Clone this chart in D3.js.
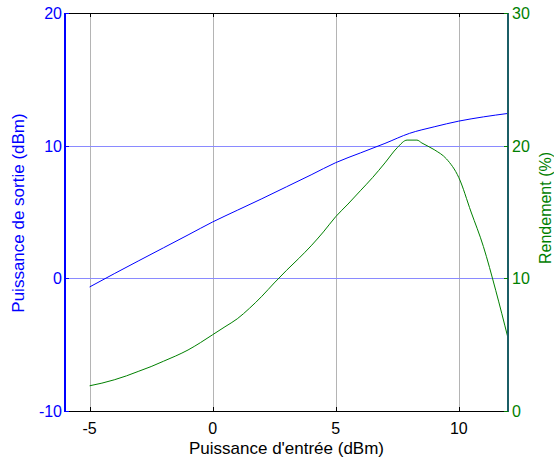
<!DOCTYPE html>
<html><head><meta charset="utf-8">
<script src="https://cdn.jsdelivr.net/npm/d3@7"></script>
<style>html,body{margin:0;padding:0;background:#fff}svg{display:block}text{font-family:"Liberation Sans",Arial,sans-serif}</style>
</head><body>
<svg id="c" width="554" height="464"></svg>
<script>
const inputPower = [-5,-4,-3,-2,-1,0,1,2,3,4,5,6,7,8,9,10,11,12];
const outputPower = [-0.65,0.35,1.33,2.3,3.27,4.25,5.13,6.0,6.9,7.8,8.72,9.45,10.17,10.93,11.42,11.85,12.17,12.43];
const effInput = [-5,-4.5,-4,-3.5,-3,-2.5,-2,-1.5,-1,-0.5,0,0.5,1,1.5,2,2.5,3,3.5,4,4.5,5,5.5,6,6.5,7,7.5,7.9,8.3,8.5,9,9.5,10,10.5,11,11.5,12];
const efficiency = [1.9,2.1,2.35,2.65,3.0,3.35,3.75,4.15,4.6,5.15,5.75,6.35,6.95,7.75,8.65,9.65,10.6,11.5,12.45,13.5,14.65,15.6,16.6,17.6,18.7,19.85,20.42,20.42,20.2,19.7,19.0,17.6,15.0,12.4,9.1,5.5];
const xTicks = [-5,0,5,10];
const yLeftTicks = [-10,0,10,20];
const yRightTicks = [0,10,20,30];

const svg = d3.select("#c");
const L=65, R=508, T=13, B=411;
const x = d3.scaleLinear().domain([-6,12]).range([L,R]);
const yL = d3.scaleLinear().domain([-10,20]).range([B,T]);
const yR = d3.scaleLinear().domain([0,30]).range([B,T]);
const px = v => Math.round(v)+0.5;

// grids
svg.append("g").selectAll("line").data(xTicks).join("line")
  .attr("x1",d=>px(x(d))).attr("x2",d=>px(x(d))).attr("y1",T).attr("y2",B)
  .attr("stroke","#b4b4b4").attr("shape-rendering","crispEdges");
svg.append("g").selectAll("line").data(yLeftTicks.filter(d=>d>-10&&d<20)).join("line")
  .attr("x1",L).attr("x2",R).attr("y1",d=>px(yL(d))).attr("y2",d=>px(yL(d)))
  .attr("stroke","#8a8aff").attr("shape-rendering","crispEdges");

// lines
svg.append("path").datum(inputPower.map((d,i)=>[d,outputPower[i]]))
  .attr("fill","none").attr("stroke","#0000ff").attr("stroke-width",1)
  .attr("d",d3.line().x(d=>x(d[0])).y(d=>yL(d[1])).curve(d3.curveMonotoneX));
svg.append("path").datum(effInput.map((d,i)=>[d,efficiency[i]]))
  .attr("fill","none").attr("stroke","#008000").attr("stroke-width",1)
  .attr("d",d3.line().x(d=>x(d[0])).y(d=>yR(d[1])).curve(d3.curveMonotoneX));

// frame
svg.append("line").attr("x1",L).attr("x2",R).attr("y1",T+0.5).attr("y2",T+0.5).attr("stroke","#000").attr("shape-rendering","crispEdges");
svg.append("line").attr("x1",L).attr("x2",R).attr("y1",B+0.5).attr("y2",B+0.5).attr("stroke","#000").attr("shape-rendering","crispEdges");
svg.append("line").attr("x1",L).attr("x2",L).attr("y1",T).attr("y2",B+1).attr("stroke","#0000ff").attr("stroke-width",2).attr("shape-rendering","crispEdges");
svg.append("line").attr("x1",R).attr("x2",R).attr("y1",T).attr("y2",B+1).attr("stroke","#1b5e66").attr("stroke-width",2).attr("shape-rendering","crispEdges");

// x ticks
const xg = svg.append("g");
xTicks.forEach(t=>{
  const xx = px(x(t));
  xg.append("line").attr("x1",xx).attr("x2",xx).attr("y1",B).attr("y2",B-4).attr("stroke","#000").attr("shape-rendering","crispEdges");
  xg.append("line").attr("x1",xx).attr("x2",xx).attr("y1",T).attr("y2",T+4).attr("stroke","#000").attr("shape-rendering","crispEdges");
  xg.append("text").attr("x",x(t)).attr("y",434).attr("text-anchor","middle").attr("font-size",16).attr("fill","#000").text(t<0?"-"+Math.abs(t):t);
});
// left ticks
yLeftTicks.forEach(t=>{
  const yy = px(yL(t));
  svg.append("line").attr("x1",L).attr("x2",L+4).attr("y1",yy).attr("y2",yy).attr("stroke","#0000ff").attr("shape-rendering","crispEdges");
  svg.append("text").attr("x",L-3).attr("y",yL(t)+6).attr("text-anchor","end").attr("font-size",16).attr("fill","#0000ff").text(t<0?"-"+Math.abs(t):t);
});
// right ticks
yRightTicks.forEach(t=>{
  const yy = px(yR(t));
  svg.append("line").attr("x1",R).attr("x2",R-4).attr("y1",yy).attr("y2",yy).attr("stroke","#008000").attr("shape-rendering","crispEdges");
  svg.append("text").attr("x",R+4).attr("y",yR(t)+6).attr("text-anchor","start").attr("font-size",16).attr("fill","#008000").text(t);
});

// titles
svg.append("text").attr("x",(L+R)/2).attr("y",454).attr("text-anchor","middle").attr("font-size",17).attr("fill","#000").text("Puissance d'entrée (dBm)");
svg.append("text").attr("transform","translate(24,213) rotate(-90)").attr("text-anchor","middle").attr("font-size",17).attr("fill","#0000ff").text("Puissance de sortie (dBm)");
svg.append("text").attr("transform","translate(551,208) rotate(-90)").attr("text-anchor","middle").attr("font-size",16).attr("fill","#008000").text("Rendement (%)");
</script>
</body></html>
